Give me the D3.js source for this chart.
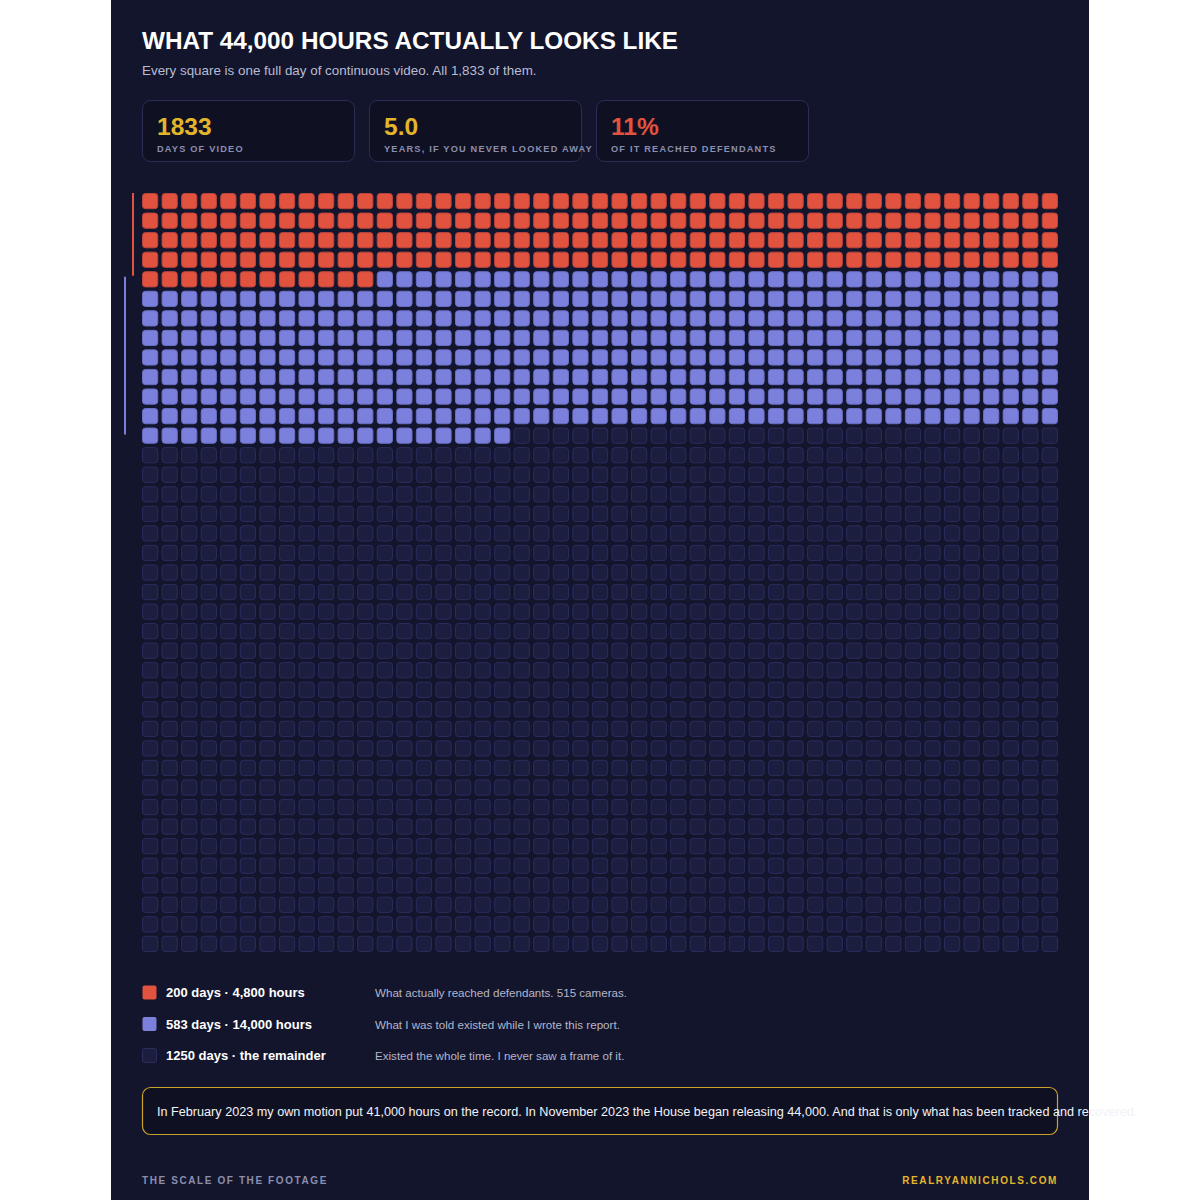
<!DOCTYPE html>
<meta charset="utf-8">
<script src="https://d3js.org/d3.v7.min.js"></script>
<style>
  body { margin: 0; background: #ffffff; }
  svg { display: block; font-family: "Liberation Sans", Arial, sans-serif; }
</style>
<div id="my_dataviz"></div>
<script>

// totals (days of footage)
var totalDays = 1833
var reachedDays = 200      // what reached defendants
var toldDays = 583         // what I was told existed (cumulative)
var columns = 47

// stat cards
var statValues = ["1833", "5.0", "11%"]
var statLabels = ["DAYS OF VIDEO", "YEARS, IF YOU NEVER LOOKED AWAY", "OF IT REACHED DEFENDANTS"]
var statColors = ["#e3b52b", "#e3b52b", "#e2533f"]

// legend
var legendTitles = ["200 days · 4,800 hours", "583 days · 14,000 hours", "1250 days · the remainder"]
var legendNotes = ["What actually reached defendants. 515 cameras.",
                   "What I was told existed while I wrote this report.",
                   "Existed the whole time. I never saw a frame of it."]
var legendColors = ["#e2533f", "#7b80dd", "#1c1e40"]

var width = 1200, height = 1200

var svg = d3.select("#my_dataviz")
  .append("svg")
    .attr("width", width)
    .attr("height", height)

// card background
svg.append("rect")
  .attr("x", 111).attr("y", 0)
  .attr("width", 978).attr("height", height)
  .attr("fill", "#13152c")

// title + subtitle
svg.append("text")
  .attr("x", 142).attr("y", 49)
  .attr("fill", "#ffffff")
  .style("font-size", "24.3px").style("font-weight", "bold")
  .text("WHAT 44,000 HOURS ACTUALLY LOOKS LIKE")

svg.append("text")
  .attr("x", 142).attr("y", 75)
  .attr("fill", "#b9bbd2")
  .style("font-size", "13.4px")
  .text("Every square is one full day of continuous video. All 1,833 of them.")

// stat cards (boxes first so long labels can spill over the border)
var cardX = d3.scaleBand().domain(d3.range(3)).range([142, 809]).paddingInner(0.0617)

svg.append("g")
  .selectAll("rect")
  .data(statValues)
  .enter()
  .append("rect")
    .attr("x", function(d, i) { return cardX(i) + 0.5 })
    .attr("y", 100.5)
    .attr("width", cardX.bandwidth() - 1).attr("height", 61)
    .attr("rx", 8)
    .attr("fill", "#0f1123")
    .attr("stroke", "#2b2d57")
    .attr("stroke-width", 1)

var cards = svg.selectAll(".card")
  .data(statValues)
  .enter()
  .append("g")
    .attr("transform", function(d, i) { return "translate(" + cardX(i) + ",100)" })

cards.append("text")
  .attr("x", 15).attr("y", 35)
  .attr("fill", function(d, i) { return statColors[i] })
  .style("font-size", "24.5px").style("font-weight", "bold")
  .text(function(d) { return d })

cards.append("text")
  .attr("x", 15).attr("y", 52)
  .attr("fill", "#8c8eaf")
  .style("font-size", "9.2px").style("font-weight", "bold")
  .style("letter-spacing", "1.2px")
  .text(function(d, i) { return statLabels[i] })

// waffle grid
var rows = Math.ceil(totalDays / columns)
var x = d3.scaleBand().domain(d3.range(columns)).range([142, 1058]).paddingInner(0.17)
var y = d3.scaleBand().domain(d3.range(rows)).range([193, 952]).paddingInner(0.17)

var days = d3.range(totalDays)

function dayColor(i) {
  if (i < reachedDays) return legendColors[0]
  if (i < toldDays) return legendColors[1]
  return legendColors[2]
}
function dayStroke(i) {
  if (i < reachedDays) return "#b9453c"
  if (i < toldDays) return "#6a6fc4"
  return "#2a2d5c"
}

svg.append("g")
  .selectAll("rect")
  .data(days)
  .enter()
  .append("rect")
    .attr("x", function(d) { return x(d % columns) + 0.5 })
    .attr("y", function(d) { return y(Math.floor(d / columns)) + 0.5 })
    .attr("width", x.bandwidth() - 1)
    .attr("height", y.bandwidth() - 1)
    .attr("rx", 3)
    .attr("fill", dayColor)
    .attr("stroke", dayStroke)
    .attr("stroke-width", 1)

// side markers: proportional share of the grid height
var share = d3.scaleLinear().domain([0, totalDays]).range([193, 952])

svg.append("line")
  .attr("x1", 133).attr("x2", 133)
  .attr("y1", share(0)).attr("y2", share(reachedDays))
  .attr("stroke", legendColors[0]).attr("stroke-width", 2)

svg.append("line")
  .attr("x1", 125).attr("x2", 125)
  .attr("y1", share(reachedDays) + 1).attr("y2", share(toldDays))
  .attr("stroke", legendColors[1]).attr("stroke-width", 2)

// legend
var legendY = d3.scalePoint().domain(d3.range(3)).range([992, 1055])

var legend = svg.selectAll(".legend")
  .data(legendTitles)
  .enter()
  .append("g")
    .attr("transform", function(d, i) { return "translate(0," + legendY(i) + ")" })

legend.append("rect")
  .attr("x", 142.5).attr("y", -6.5)
  .attr("width", 14).attr("height", 14)
  .attr("rx", 2)
  .attr("fill", function(d, i) { return legendColors[i] })
  .attr("stroke", function(d, i) { return i == 2 ? "#2a2d5c" : "none" })

legend.append("text")
  .attr("x", 166).attr("y", 5)
  .attr("fill", "#ffffff")
  .style("font-size", "13px").style("font-weight", "bold")
  .text(function(d) { return d })

legend.append("text")
  .attr("x", 375).attr("y", 5)
  .attr("fill", "#b3b5cb")
  .style("font-size", "11.6px")
  .text(function(d, i) { return legendNotes[i] })

// note box
svg.append("rect")
  .attr("x", 142.5).attr("y", 1087.5)
  .attr("width", 915).attr("height", 47)
  .attr("rx", 8)
  .attr("fill", "#0f1123")
  .attr("stroke", "#c9a22a")
  .attr("stroke-width", 1.2)

svg.append("text")
  .attr("x", 157).attr("y", 1116)
  .attr("fill", "#f2f3f8")
  .style("font-size", "12.65px")
  .text("In February 2023 my own motion put 41,000 hours on the record. In November 2023 the House began releasing 44,000. And that is only what has been tracked and recovered.")

// footer
svg.append("text")
  .attr("x", 142).attr("y", 1184)
  .attr("fill", "#8c8eaf")
  .style("font-size", "10px").style("font-weight", "bold")
  .style("letter-spacing", "1.6px")
  .text("THE SCALE OF THE FOOTAGE")

svg.append("text")
  .attr("x", 1058).attr("y", 1184)
  .attr("text-anchor", "end")
  .attr("fill", "#e3b52b")
  .style("font-size", "10px").style("font-weight", "bold")
  .style("letter-spacing", "1.6px")
  .text("REALRYANNICHOLS.COM")

</script>
